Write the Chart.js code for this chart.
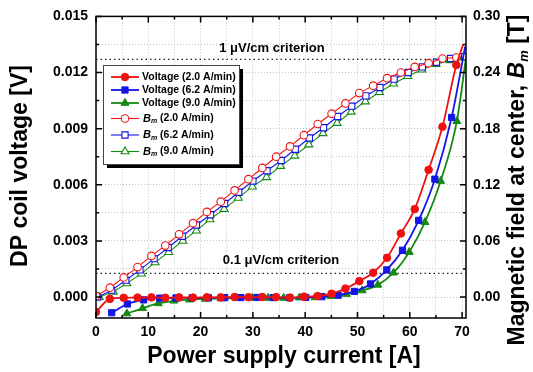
<!DOCTYPE html>
<html>
<head>
<meta charset="utf-8">
<script src="https://cdn.jsdelivr.net/npm/chart.js@4.4.0/dist/chart.umd.min.js"></script>
<style>
  html, body { margin: 0; padding: 0; background: #fff; }
</style>
</head>
<body>
<canvas id="dpChart" width="533" height="372"></canvas>
<script>
var FONT = "'Liberation Sans', Arial, sans-serif";

// DP coil voltage [V] vs power supply current [A]
var redVoltI = [0, 2.65, 5.3, 7.95, 10.6, 13.25, 15.9, 18.55, 21.2, 23.85, 26.5, 29.15, 31.8, 34.45, 37.1, 39.75, 42.4, 45.05, 47.7, 50.35, 53.0, 55.65, 58.3, 60.95, 63.6, 66.25, 68.9, 70.2];
var redVolt = [-0.0008, -0.0001, -0.00004, -0.00003, -0.00002, -0.00004, -0.00002, -0.00003, -0.00001, -0.00002, 0.0, -0.00001, 0.0, 0.0, -0.00003, 0.00002, 0.00005, 0.00018, 0.00045, 0.00085, 0.0013, 0.0021, 0.0034, 0.0047, 0.0068, 0.0091, 0.0124, 0.0135];
var blueVoltI = [3.0, 6.0, 9.1, 12.2, 15.3, 18.4, 21.5, 24.6, 27.7, 30.8, 33.9, 37.0, 40.1, 43.2, 46.3, 49.4, 52.5, 55.6, 58.6, 61.7, 64.8, 68.0, 70.6];
var blueVolt = [-0.00084, -0.00037, -0.00015, -0.00006, -0.00005, -0.00004, -0.00004, -0.00003, -0.00003, -0.00002, -0.00003, -0.00004, -0.00002, 0.00002, 0.0001, 0.0003, 0.0007, 0.00145, 0.0025, 0.0041, 0.0063, 0.0096, 0.0134];
var greenVoltI = [5.9, 8.9, 11.9, 14.9, 17.9, 20.9, 23.9, 26.9, 29.9, 32.9, 35.9, 38.9, 41.9, 44.9, 47.9, 50.9, 53.9, 56.9, 59.9, 62.9, 65.9, 69.0, 70.75];
var greenVolt = [-0.00088, -0.0006, -0.00034, -0.0002, -0.00014, -0.0001, -0.00008, -0.00005, -0.00005, -0.00005, -0.00005, -0.00003, -0.00002, 0.00005, 0.00016, 0.00035, 0.00065, 0.0013, 0.0024, 0.004, 0.0062, 0.0094, 0.0128];

// magnetic field at center Bm [T]
var redFieldI = [0, 2.65, 5.3, 7.95, 10.6, 13.25, 15.9, 18.55, 21.2, 23.85, 26.5, 29.15, 31.8, 34.45, 37.1, 39.75, 42.4, 45.05, 47.7, 50.35, 53.0, 55.65, 58.3, 60.95, 63.6, 66.25, 68.9];
var redField = [0.001, 0.010, 0.021, 0.032, 0.044, 0.055, 0.067, 0.079, 0.091, 0.102, 0.114, 0.126, 0.138, 0.150, 0.161, 0.173, 0.185, 0.196, 0.207, 0.218, 0.226, 0.234, 0.240, 0.246, 0.250, 0.255, 0.256];
var blueFieldI = [0.3, 3.0, 5.7, 8.4, 11.1, 13.8, 16.5, 19.2, 21.9, 24.6, 27.3, 30.0, 32.7, 35.4, 38.1, 40.8, 43.5, 46.2, 48.9, 51.6, 54.3, 57.0, 59.7, 62.4, 65.1, 67.8, 70.5];
var blueField = [0.0, 0.0074, 0.018, 0.029, 0.041, 0.053, 0.065, 0.077, 0.088, 0.100, 0.112, 0.124, 0.135, 0.146, 0.158, 0.170, 0.181, 0.193, 0.204, 0.215, 0.224, 0.233, 0.240, 0.246, 0.251, 0.255, 0.257];
var greenFieldI = [0.6, 3.3, 5.9, 8.7, 11.3, 13.9, 16.6, 19.2, 21.8, 24.5, 27.2, 29.9, 32.6, 35.3, 38.0, 40.7, 43.4, 46.1, 48.8, 51.5, 54.2, 56.9, 59.6, 62.3, 65.0, 67.7, 70.4];
var greenField = [0.0, 0.0056, 0.0146, 0.025, 0.037, 0.048, 0.060, 0.071, 0.083, 0.094, 0.106, 0.118, 0.128, 0.140, 0.151, 0.163, 0.175, 0.186, 0.198, 0.209, 0.219, 0.228, 0.236, 0.243, 0.249, 0.253, 0.256];

var criteria = [0.0127, 0.00127];
var criteriaText = ['1 \u03bcV/cm criterion', '0.1 \u03bcV/cm criterion'];
var rates = ['2.0 A/min', '6.2 A/min', '9.0 A/min'];

var xTicks = [0, 10, 20, 30, 40, 50, 60, 70];
var xGrid = [0, 5, 10, 15, 20, 25, 30, 35, 40, 45, 50, 55, 60, 65, 70];
var yTicks = [0, 0.003, 0.006, 0.009, 0.012, 0.015];
var yGrid = [0, 0.0015, 0.003, 0.0045, 0.006, 0.0075, 0.009, 0.0105, 0.012, 0.0135, 0.015];
var y2Ticks = [0, 0.06, 0.12, 0.18, 0.24, 0.30];
var y2Grid = [0, 0.03, 0.06, 0.09, 0.12, 0.15, 0.18, 0.21, 0.24, 0.27, 0.30];

var colors = ['#ee1111', '#1515e6', '#148a14'];
var shapes = ['circle', 'rect', 'triangle'];
var sizes = [3.8, 4.4, 4.6];

function pairs(xs, ys) {
  return xs.map(function (x, i) { return { x: x, y: ys[i] }; });
}

var voltSets = [[redVoltI, redVolt], [blueVoltI, blueVolt], [greenVoltI, greenVolt]];
var fieldSets = [[redFieldI, redField], [blueFieldI, blueField], [greenFieldI, greenField]];

var datasets = [];
voltSets.forEach(function (s, k) {
  var n = s[0].length;
  datasets.push({
    label: 'Voltage (' + rates[k] + ')',
    data: pairs(s[0], s[1]),
    yAxisID: 'y',
    borderColor: colors[k],
    backgroundColor: colors[k],
    borderWidth: 1.8,
    pointStyle: shapes[k],
    // last point is only the end of the curve, no symbol there
    pointRadius: function (c) { return c.dataIndex === n - 1 ? 0 : sizes[k]; },
    pointBorderWidth: 1,
    cubicInterpolationMode: 'monotone'
  });
});
fieldSets.forEach(function (s, k) {
  datasets.push({
    label: 'Bm (' + rates[k] + ')',
    data: pairs(s[0], s[1]),
    yAxisID: 'y2',
    borderColor: colors[k],
    backgroundColor: '#fff',
    borderWidth: 1.1,
    pointStyle: shapes[k],
    pointRadius: sizes[k],
    pointBorderWidth: 1.1
  });
});
criteria.forEach(function (v) {
  datasets.push({
    label: 'criterion',
    data: [{ x: 0, y: v }, { x: 70.75, y: v }],
    yAxisID: 'y',
    borderColor: '#222',
    borderWidth: 1.2,
    borderDash: [1.5, 3],
    pointRadius: 0
  });
});

function setTicks(list) {
  return function (axis) { axis.ticks = list.map(function (v) { return { value: v }; }); };
}

function richText(c, parts, x, y) {
  var total = 0;
  parts.forEach(function (p) { c.font = p.f; p.w = c.measureText(p.t).width; total += p.w; });
  var px = x - total / 2;
  parts.forEach(function (p) {
    c.font = p.f;
    c.textAlign = 'left';
    c.fillText(p.t, px, y + (p.dy || 0));
    px += p.w;
  });
}

function drawMarker(c, shape, x, y, r, filled, color) {
  c.beginPath();
  if (shape === 'circle') {
    c.arc(x, y, r, 0, Math.PI * 2);
  } else if (shape === 'rect') {
    var h = r * Math.SQRT1_2;
    c.rect(x - h, y - h, 2 * h, 2 * h);
  } else {
    c.moveTo(x, y - r);
    c.lineTo(x + r * 0.866, y + r * 0.5);
    c.lineTo(x - r * 0.866, y + r * 0.5);
    c.closePath();
  }
  c.fillStyle = filled ? color : '#fff';
  c.fill();
  c.strokeStyle = color;
  c.lineWidth = filled ? 1 : 1.1;
  c.stroke();
}

var decor = {
  id: 'decor',
  afterDraw: function (chart) {
    var c = chart.ctx, a = chart.chartArea;
    var sx = chart.scales.x, sy = chart.scales.y, sy2 = chart.scales.y2;
    c.save();

    // frame and inward ticks
    c.strokeStyle = '#000';
    c.lineWidth = 1.5;
    c.strokeRect(a.left, a.top, a.right - a.left, a.bottom - a.top);
    c.beginPath();
    xGrid.forEach(function (v) {
      var len = xTicks.indexOf(v) >= 0 ? 6 : 3;
      var p = sx.getPixelForValue(v);
      c.moveTo(p, a.bottom); c.lineTo(p, a.bottom - len);
      c.moveTo(p, a.top); c.lineTo(p, a.top + len);
    });
    yGrid.forEach(function (v) {
      var len = yTicks.indexOf(v) >= 0 ? 6 : 3;
      var p = sy.getPixelForValue(v);
      c.moveTo(a.left, p); c.lineTo(a.left + len, p);
    });
    y2Grid.forEach(function (v) {
      var len = y2Ticks.indexOf(v) >= 0 ? 6 : 3;
      var p = sy2.getPixelForValue(v);
      c.moveTo(a.right, p); c.lineTo(a.right - len, p);
    });
    c.stroke();

    c.fillStyle = '#000';
    c.textBaseline = 'middle';

    // criterion labels
    c.font = 'bold 13px ' + FONT;
    c.textAlign = 'center';
    c.fillText(criteriaText[0], 272, sy.getPixelForValue(criteria[0]) - 11);
    c.fillText(criteriaText[1], 281, sy.getPixelForValue(criteria[1]) - 13);

    // axis titles
    c.font = 'bold 23px ' + FONT;
    c.textAlign = 'center';
    c.fillText('Power supply current [A]', (a.left + a.right) / 2 + 3, 357);
    c.save();
    c.translate(21, 166);
    c.rotate(-Math.PI / 2);
    c.fillText('DP coil voltage [V]', 0, 0);
    c.restore();
    c.save();
    c.translate(518, 180);
    c.rotate(-Math.PI / 2);
    richText(c, [
      { t: 'Magnetic field at center, ', f: 'bold 23px ' + FONT },
      { t: 'B', f: 'italic bold 23px ' + FONT },
      { t: 'm', f: 'italic bold 13px ' + FONT, dy: 6 },
      { t: ' [T]', f: 'bold 23px ' + FONT }
    ], 0, 0);
    c.restore();

    // legend with drop shadow
    var L = 103, T = 65, W = 136, H = 99;
    c.fillStyle = '#000';
    c.fillRect(L + 4, T + 4, W, H);
    c.fillStyle = '#fff';
    c.fillRect(L, T, W, H);
    c.strokeStyle = '#444';
    c.lineWidth = 1;
    c.strokeRect(L + 0.5, T + 0.5, W, H);
    var rows = [77, 90, 103, 118.5, 135, 151.5];
    for (var i = 0; i < 6; i++) {
      var k = i % 3, filled = i < 3, yy = rows[i];
      c.strokeStyle = colors[k];
      c.lineWidth = filled ? 1.8 : 1.1;
      c.beginPath(); c.moveTo(111, yy); c.lineTo(139, yy); c.stroke();
      drawMarker(c, shapes[k], 125, yy, sizes[k], filled, colors[k]);
      c.fillStyle = '#000';
      c.textBaseline = 'middle';
      if (filled) {
        c.font = 'bold 10.5px ' + FONT;
        c.textAlign = 'left';
        c.fillText('Voltage (' + rates[k] + ')', 142, yy);
      } else {
        var parts = [
          { t: 'B', f: 'italic bold 11px ' + FONT },
          { t: 'm', f: 'italic bold 7px ' + FONT, dy: 3 },
          { t: ' (' + rates[k] + ')', f: 'bold 10.5px ' + FONT }
        ];
        var tw = 0;
        parts.forEach(function (p) { c.font = p.f; tw += c.measureText(p.t).width; });
        richText(c, parts, 143 + tw / 2, yy);
      }
    }
    c.restore();
  }
};

var tickFont = { family: FONT, size: 14, weight: 'bold' };
var gridStyle = { color: '#c4c4c4', lineWidth: 1, drawTicks: false };

var ctx = document.getElementById('dpChart').getContext('2d');
var myChart = new Chart(ctx, {
  type: 'line',
  data: { datasets: datasets },
  options: {
    responsive: false,
    animation: false,
    layout: { padding: { top: 15, left: 0, right: 0, bottom: 0 } },
    plugins: { legend: { display: false }, tooltip: { enabled: false } },
    scales: {
      x: {
        type: 'linear',
        min: 0,
        max: 70.75,
        afterBuildTicks: setTicks(xGrid),
        afterFit: function (s) { s.height = 54; },
        grid: gridStyle,
        border: { display: false, dash: [1, 2] },
        ticks: {
          autoSkip: false,
          maxRotation: 0,
          padding: 6,
          color: '#000',
          font: tickFont,
          callback: function (v) { return xTicks.indexOf(v) >= 0 ? String(v) : ''; }
        }
      },
      y: {
        type: 'linear',
        position: 'left',
        min: -0.00112,
        max: 0.015,
        afterBuildTicks: setTicks(yGrid),
        afterFit: function (s) { s.width = 96; },
        grid: gridStyle,
        border: { display: false, dash: [1, 2] },
        ticks: {
          padding: 8,
          color: '#000',
          font: tickFont,
          callback: function (v) { return yTicks.indexOf(v) >= 0 ? v.toFixed(3) : ''; }
        }
      },
      y2: {
        type: 'linear',
        position: 'right',
        min: -0.0224,
        max: 0.30,
        afterBuildTicks: setTicks(y2Ticks),
        afterFit: function (s) { s.width = 67; },
        grid: { display: false, drawTicks: false },
        border: { display: false },
        ticks: {
          padding: 7,
          color: '#000',
          font: tickFont,
          callback: function (v) { return v.toFixed(2); }
        }
      }
    }
  },
  plugins: [decor]
});
</script>
</body>
</html>
